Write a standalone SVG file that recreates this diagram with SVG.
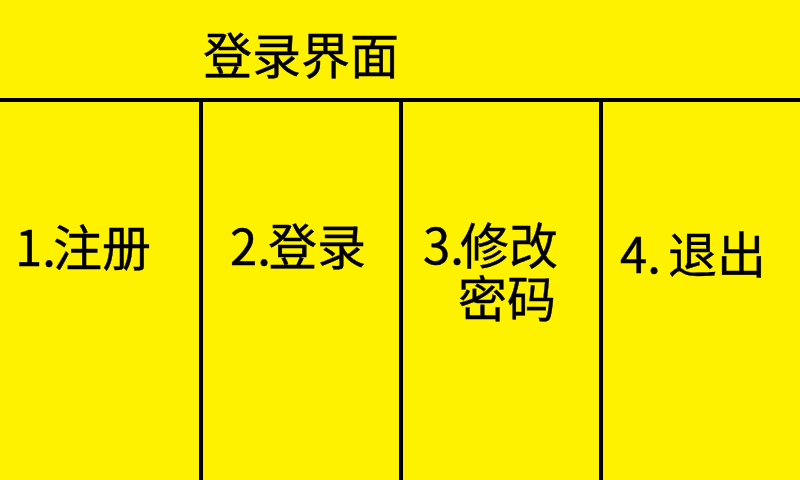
<svg xmlns="http://www.w3.org/2000/svg" width="800" height="480" viewBox="0 0 800 480">
<style>
text{font-family:"Noto Sans CJK SC","Noto Sans",sans-serif;fill:#000;font-size:49px;stroke:#000;stroke-width:0.4}
.ln{stroke:#000;stroke-width:4;fill:none}
</style>
<rect width="800" height="480" fill="#FFF200"/>
<g id="connectors">
<line class="ln" x1="0" y1="100" x2="800" y2="100"/>
<line class="ln" x1="201" y1="100" x2="201" y2="480"/>
<line class="ln" x1="401" y1="100" x2="401" y2="480"/>
<line class="ln" x1="601" y1="100" x2="601" y2="480"/>
</g>
<g id="title"><text x="203" y="74" font-size="49">登录界面</text></g>
<g id="n1"><text x="15" y="266">1.<tspan x="53">注册</tspan></text></g>
<g id="n2"><text x="230" y="265">2.<tspan x="268">登录</tspan></text></g>
<g id="n3"><text x="423" y="264">3.<tspan x="460">修改</tspan></text><text x="458" y="317">密码</text></g>
<g id="n4"><text x="620" y="273">4.<tspan x="668">退出</tspan></text></g>
</svg>
